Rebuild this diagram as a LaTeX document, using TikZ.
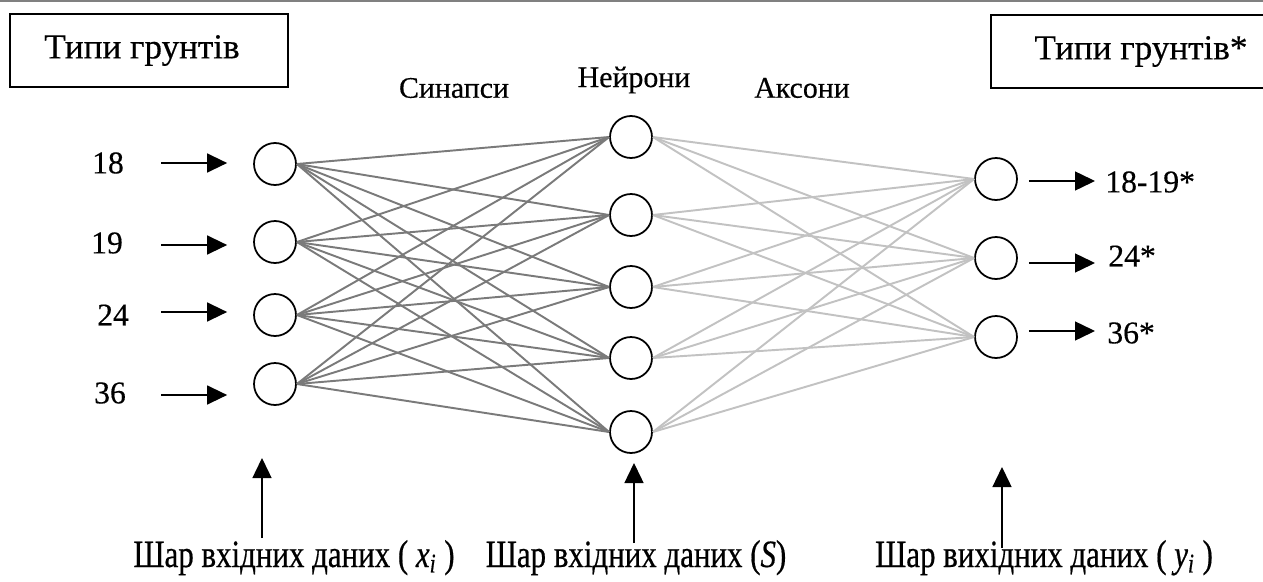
\documentclass[tikz,border=0pt]{standalone}
\usepackage{fontspec}
\setmainfont{Liberation Serif}[FakeBold=0.4]
\newfontfamily\narrowserif{Liberation Serif}[FakeStretch=0.8, FakeBold=0.5]
\usetikzlibrary{arrows.meta}

\tikzset{
	neuron/.style={draw, circle, line width=1pt, minimum size=0.84cm, inner sep=0pt},
	synapse/.style={draw=black!52, line width=1.1pt},
	axon/.style={draw=black!24, line width=1.1pt},
	feed/.style={line width=0.8pt, -{Triangle[length=0.4cm,width=0.38cm]}},
	titlebox/.style={draw, line width=0.9pt, minimum height=1.46cm, inner sep=0pt, font=\fontsize{20}{24}\selectfont},
	numlabel/.style={inner sep=0pt, font=\fontsize{18}{22}\selectfont},
	layername/.style={inner sep=0pt, font=\fontsize{17}{20}\selectfont},
	layerlabel/.style={inner sep=0pt, anchor=base, font=\narrowserif\fontsize{22}{26}\selectfont}
}

\begin{document}
\begin{tikzpicture}[x=0.02cm, y=-0.02cm]
		\clip ( 0, 0 ) rectangle ( 1263, 581 );
		\draw [black!50, line width=0.03cm] ( 0, 1 ) -- ( 1263, 1 );

		% заголовки
		\node [titlebox, minimum width=5.56cm] (typesin) at ( 149, 50.5 ) {Типи грунтів\hspace*{0.28cm}};
		\node [titlebox, minimum width=6cm] (typesout) at ( 1141, 51.5 ) {Типи грунтів*};

		\node [layername] (synapses) at ( 454, 88 ) {Синапси};
		\node [layername] (neurons) at ( 634, 80 ) {Нейрони};
		\node [layername] (axons) at ( 802, 88 ) {Аксони};

		% вхідний шар
		\node [neuron] (in1) at ( 275, 164 ) {};
		\node [neuron] (in2) at ( 275, 242 ) {};
		\node [neuron] (in3) at ( 275, 315 ) {};
		\node [neuron] (in4) at ( 275, 384 ) {};

		% прихований шар
		\node [neuron] (hid1) at ( 631, 137 ) {};
		\node [neuron] (hid2) at ( 631, 215 ) {};
		\node [neuron] (hid3) at ( 631, 287 ) {};
		\node [neuron] (hid4) at ( 631, 358 ) {};
		\node [neuron] (hid5) at ( 631, 432 ) {};

		% вихідний шар
		\node [neuron] (out1) at ( 996, 179 ) {};
		\node [neuron] (out2) at ( 996, 258 ) {};
		\node [neuron] (out3) at ( 996, 337 ) {};

		% зв'язки
		\foreach \i in {1,...,4}
			\foreach \j in {1,...,5}
				\draw [synapse] (in\i.east) -- (hid\j.west);
		\foreach \j in {1,...,5}
			\foreach \k in {1,...,3}
				\draw [axon] (hid\j.east) -- (out\k.west);

		% входи
		\node [numlabel] (x18) at ( 108, 163 ) {18};
		\node [numlabel] (x19) at ( 107, 243 ) {19};
		\node [numlabel] (x24) at ( 113, 315 ) {24};
		\node [numlabel] (x36) at ( 110, 393 ) {36};
		\coordinate (s18) at ( 161, 163 );
		\coordinate (s19) at ( 161, 245 );
		\coordinate (s24) at ( 161, 312 );
		\coordinate (s36) at ( 161, 395 );
		\draw [feed, shorten >=0.52cm] (s18) -- (s18 -| in1.west);
		\draw [feed, shorten >=0.52cm] (s19) -- (s19 -| in2.west);
		\draw [feed, shorten >=0.52cm] (s24) -- (s24 -| in3.west);
		\draw [feed, shorten >=0.52cm] (s36) -- (s36 -| in4.west);

		% виходи
		\node [numlabel, anchor=west] (y1) at ( 1105, 182 ) {18-19*};
		\node [numlabel, anchor=west] (y2) at ( 1108, 256 ) {24*};
		\node [numlabel, anchor=west] (y3) at ( 1107, 333 ) {36*};
		\coordinate (t1) at ( 1095, 181 );
		\coordinate (t2) at ( 1095, 263 );
		\coordinate (t3) at ( 1095, 331 );
		\draw [feed, shorten <=0.22cm] (t1 -| out1.east) -- (t1);
		\draw [feed, shorten <=0.22cm] (t2 -| out2.east) -- (t2);
		\draw [feed, shorten <=0.22cm] (t3 -| out3.east) -- (t3);

		% підписи шарів
		\node [layerlabel] (lin) at ( 294, 567 ) {Шар вхідних даних ( {\itshape x\textsubscript{i}} )};
		\node [layerlabel] (lhid) at ( 636, 567 ) {Шар вхідних даних (\textit{S})};
		\node [layerlabel] (lout) at ( 1044, 567 ) {Шар вихідних даних ( {\itshape y\textsubscript{i}} )};
		\coordinate (b1) at ( 262, 538 );
		\coordinate (b2) at ( 634, 543 );
		\coordinate (b3) at ( 1002, 548 );
		\draw [feed] (b1) -- ++( 0, -80 );
		\draw [feed] (b2) -- ++( 0, -80 );
		\draw [feed] (b3) -- ++( 0, -81 );
\end{tikzpicture}
\end{document}
